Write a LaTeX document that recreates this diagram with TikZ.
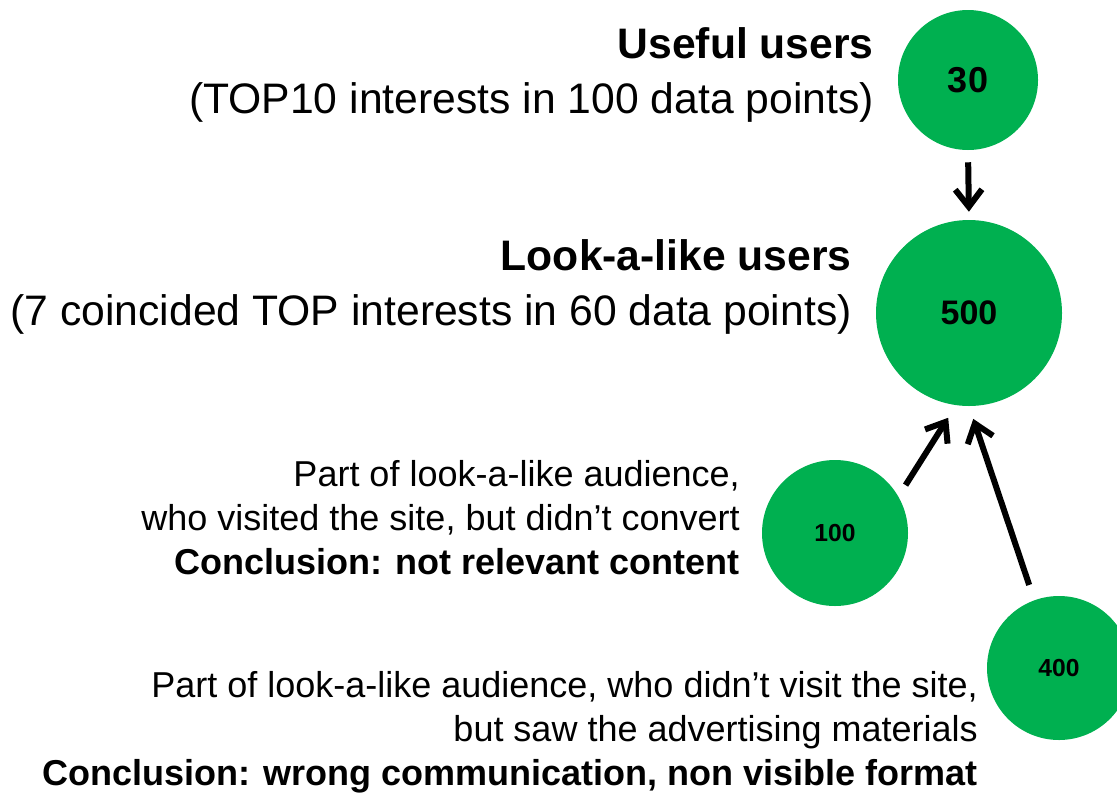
\documentclass[tikz,border=0pt]{standalone}
\usepackage{fontspec}
\setmainfont{Liberation Sans}
\usetikzlibrary{arrows.meta,positioning}
\definecolor{audgreen}{HTML}{00B050}

\begin{document}
\begin{tikzpicture}[
x=0.75pt, y=-0.75pt,
group/.style={circle,fill=audgreen,draw=none,inner sep=0pt},
bigtext/.style={anchor=east,align=right,inner sep=0pt,font=\fontsize{32}{41.5}\selectfont},
smalltext/.style={anchor=east,align=right,inner sep=0pt,font=\fontsize{27}{33}\selectfont},
flow/.style={line width=4.5pt,-{Straight Barb[length=13pt,width=20pt]}}
]
    \useasboundingbox (0,0) rectangle (1117,793);

    % Draw audience circles
    \node[group,minimum size=105pt,font=\bfseries\fontsize{27}{27}\selectfont] (thirty) at (968,80) {30};
    \node[group,minimum size=139.5pt,font=\bfseries\fontsize{25.5}{25.5}\selectfont] (fivehundred) at (969,313) {500};
    \node[group,minimum size=109.5pt,font=\bfseries\fontsize{18.5}{18.5}\selectfont] (hundred) at (835,533) {100};
    \node[group,minimum size=108pt,font=\bfseries\fontsize{18.5}{18.5}\selectfont] (fourhundred) at (1059,668) {400};

    % Draw labels
    \node[bigtext] (useful) at (874,75) {\textbf{Useful users}\\(TOP10 interests in 100 data points)};
    \node[bigtext] (lookalike) at (852,287) {\textbf{Look-a-like users}\\(7 coincided TOP interests in 60 data points)};
    \node[smalltext] (visited) at (740,518) {Part of look-a-like audience,\\who visited the site, but didn’t convert\\\textbf{Conclusion: not relevant content}};
    \node[smalltext] (saw) at (978,732) {Part of look-a-like audience, who didn’t visit the site,\\but saw the advertising materials\\\textbf{Conclusion: wrong communication, non visible format}};

    % Draw arrows
    \draw[flow,shorten <=9pt,shorten >=6pt] (thirty.south) -- (fivehundred.north);
    \draw[flow,shorten <=10pt,shorten >=11pt] (hundred.30) -- (fivehundred.-98);
    \draw[flow,shorten <=12pt,shorten >=10pt] (fourhundred.110) -- (fivehundred.-90);

\end{tikzpicture}
\end{document}
